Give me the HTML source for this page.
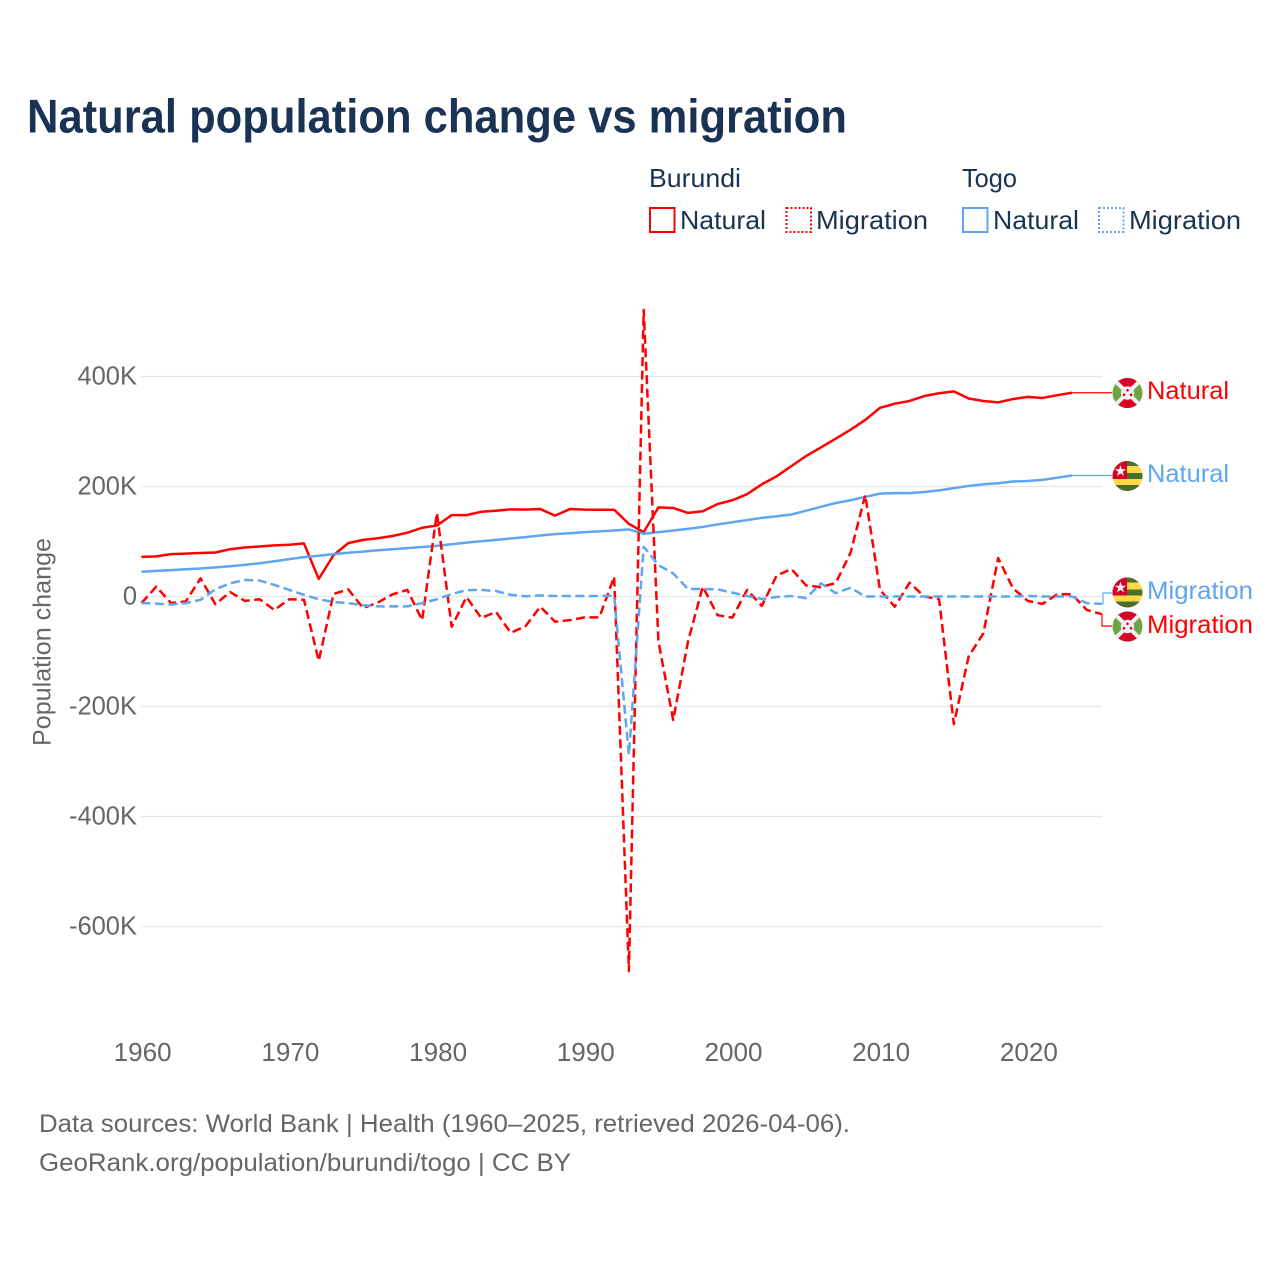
<!DOCTYPE html>
<html lang="en">
<head>
<meta charset="utf-8">
<title>Natural population change vs migration</title>
<style>
html,body{margin:0;padding:0;background:#fff;}
svg{display:block;}
text{font-family:"Liberation Sans",sans-serif;}
</style>
</head>
<body>
<svg id="chart" xmlns="http://www.w3.org/2000/svg" width="1280" height="1280" viewBox="0 0 1280 1280">
  <defs>
    <clipPath id="flag-clip-1"><circle cx="1127.5" cy="393" r="15"/></clipPath>
    <clipPath id="flag-clip-2"><circle cx="1127.5" cy="476" r="15"/></clipPath>
    <clipPath id="flag-clip-3"><circle cx="1127.5" cy="592.5" r="15"/></clipPath>
    <clipPath id="flag-clip-4"><circle cx="1127.5" cy="626.5" r="15"/></clipPath>
  </defs>

  <text x="27" y="132.5" font-size="47" font-weight="700" fill="#1a3354" textLength="820" lengthAdjust="spacingAndGlyphs">Natural population change vs migration</text>

  <g font-size="26" fill="#1a3354">
    <text x="649" y="187" textLength="92" lengthAdjust="spacingAndGlyphs">Burundi</text>
    <text x="962" y="187" textLength="55" lengthAdjust="spacingAndGlyphs">Togo</text>
    <g>
      <rect x="650" y="208" width="24.5" height="24" fill="none" stroke="#ff0000" stroke-width="2"/>
      <text x="680" y="229" textLength="86" lengthAdjust="spacingAndGlyphs">Natural</text>
    </g>
    <g>
      <rect x="786.5" y="208" width="24.5" height="24" fill="none" stroke="#ff0000" stroke-width="2" stroke-dasharray="2 2"/>
      <text x="816" y="229" textLength="112" lengthAdjust="spacingAndGlyphs">Migration</text>
    </g>
    <g>
      <rect x="963" y="208" width="24.5" height="24" fill="none" stroke="#5ea6f0" stroke-width="2"/>
      <text x="993" y="229" textLength="86" lengthAdjust="spacingAndGlyphs">Natural</text>
    </g>
    <g>
      <rect x="1099" y="208" width="24.5" height="24" fill="none" stroke="#5ea6f0" stroke-width="2" stroke-dasharray="2 2"/>
      <text x="1129" y="229" textLength="112" lengthAdjust="spacingAndGlyphs">Migration</text>
    </g>
  </g>

  <g id="grid"></g>
  <g id="y-axis"></g>
  <g id="x-axis"></g>
  <text transform="translate(50.5,642) rotate(-90)" text-anchor="middle" font-size="25" fill="#666666" textLength="208" lengthAdjust="spacingAndGlyphs">Population change</text>

  <g id="series"></g>
  <g id="connectors"></g>

  <g clip-path="url(#flag-clip-1)">
    <rect x="1112" y="378" width="31" height="30" fill="#6da544"/>
    <path d="M1112 378h31l-15.5 15z M1112 408h31l-15.5 -15z" fill="#d80027"/>
    <path d="M1112 378L1143 408M1143 378L1112 408" stroke="#f0f0f0" stroke-width="4"/>
    <circle cx="1127.5" cy="393" r="6.7" fill="#f0f0f0"/>
    <circle cx="1127.5" cy="390.3" r="1.3" fill="#d80027"/><circle cx="1124" cy="394.8" r="1.3" fill="#d80027"/><circle cx="1131" cy="394.8" r="1.3" fill="#d80027"/>
  </g>
  <g clip-path="url(#flag-clip-2)">
    <rect x="1112" y="461" width="31" height="30" fill="#ffda44"/>
    <rect x="1112" y="461" width="31" height="5" fill="#496e2d"/>
    <rect x="1112" y="473" width="31" height="6" fill="#496e2d"/>
    <rect x="1112" y="485" width="31" height="6" fill="#496e2d"/>
    <rect x="1112" y="461" width="15" height="18" fill="#d80027"/>
    <path d="M1120.500 465l1.400 4.200h4.400l-3.600 2.600 1.400 4.200-3.600-2.600-3.600 2.600 1.400-4.200-3.600-2.600h4.400z" fill="#f0f0f0"/>
  </g>
  <g clip-path="url(#flag-clip-3)">
    <rect x="1112" y="577.500" width="31" height="30" fill="#ffda44"/>
    <rect x="1112" y="577.500" width="31" height="5" fill="#496e2d"/>
    <rect x="1112" y="589.500" width="31" height="6" fill="#496e2d"/>
    <rect x="1112" y="601.500" width="31" height="6" fill="#496e2d"/>
    <rect x="1112" y="577.500" width="15" height="18" fill="#d80027"/>
    <path d="M1120.500 581.500l1.400 4.200h4.400l-3.600 2.600 1.400 4.200-3.600-2.600-3.600 2.600 1.400-4.200-3.600-2.600h4.400z" fill="#f0f0f0"/>
  </g>
  <g clip-path="url(#flag-clip-4)">
    <rect x="1112" y="611.500" width="31" height="30" fill="#6da544"/>
    <path d="M1112 611.500h31l-15.500 15z M1112 641.500h31l-15.500 -15z" fill="#d80027"/>
    <path d="M1112 611.500L1143 641.500M1143 611.500L1112 641.500" stroke="#f0f0f0" stroke-width="4"/>
    <circle cx="1127.5" cy="626.500" r="6.7" fill="#f0f0f0"/>
    <circle cx="1127.5" cy="623.800" r="1.300" fill="#d80027"/><circle cx="1124" cy="628.300" r="1.300" fill="#d80027"/><circle cx="1131" cy="628.300" r="1.300" fill="#d80027"/>
  </g>

  <g font-size="25">
    <text x="1147" y="399" fill="#ff0000" textLength="82" lengthAdjust="spacingAndGlyphs">Natural</text>
    <text x="1147" y="482" fill="#5ea6f0" textLength="82" lengthAdjust="spacingAndGlyphs">Natural</text>
    <text x="1147" y="599" fill="#5ea6f0" textLength="106" lengthAdjust="spacingAndGlyphs">Migration</text>
    <text x="1147" y="633" fill="#ff0000" textLength="106" lengthAdjust="spacingAndGlyphs">Migration</text>
  </g>

  <g font-size="25" fill="#666666">
    <text x="39" y="1132" textLength="811" lengthAdjust="spacingAndGlyphs">Data sources: World Bank | Health (1960–2025, retrieved 2026-04-06).</text>
    <text x="39" y="1171" textLength="532" lengthAdjust="spacingAndGlyphs">GeoRank.org/population/burundi/togo | CC BY</text>
  </g>
</svg>

<script>
var years = [1960,1961,1962,1963,1964,1965,1966,1967,1968,1969,1970,1971,1972,1973,1974,1975,1976,1977,1978,1979,1980,1981,1982,1983,1984,1985,1986,1987,1988,1989,1990,1991,1992,1993,1994,1995,1996,1997,1998,1999,2000,2001,2002,2003,2004,2005,2006,2007,2008,2009,2010,2011,2012,2013,2014,2015,2016,2017,2018,2019,2020,2021,2022,2023,2024,2025];
var burundiNatural = [72,73,77,78,79,80,86,89,91,93,94,96.5,32,75,97,103,106,110,116,125,129,148,148,154,156,158.5,158,159,147,159,158,157.7,157.7,132,117,162,161,152,155,168,175,186,204,218.5,237,255.5,271,287,303,321,343,350.6,355.5,364.5,369.5,373,360,355.5,353,359,363,361,366,370.5];
var togoNatural = [45,46.5,48,49.5,51,53,55,57.5,60.5,64,68,71.5,74,77,79.5,81.5,84,86,88,90,92,95,98,100.5,103,105.5,108,111,113.5,115,117,118.5,120,122,114,117,120,123,126.5,131,135,139,143,146,149,156,163,170,175,181,187,188,188,190,193,197,201,204,206,209,210,212,216,220];
var burundiMigration = [-12,18,-12,-9,33,-14,8,-8,-5,-24.5,-5,-6,-117,4.5,13,-21,-11,4,12,-43,152,-55,-1,-39,-28,-66,-54,-18.5,-46,-43,-38,-38,36,-681,521,-82,-224.5,-82,18,-34,-38.5,12,-17,38,50,20,17,24.5,79,184.5,12,-18.5,25,0,-5,-232,-109,-67,70,15,-8,-13.5,4,4,-24.5,-32];
var togoMigration = [-12,-13,-14.5,-12,-6,13,24,30,29,21,12,3,-5,-10,-12,-16,-18,-18,-18,-12,-5,4.5,11.6,12,10,3,0.5,2,1,1,1,1,1.5,-288,90.5,57,42,13.6,13.6,13,7,1,-4.5,-1,1,-3,24,6,16,0,0,0,0,0,0,0,0,0,0,0,1,0,0,0,-12,-13.5];
var yTickValues = [400,200,0,-200,-400,-600];
var yTickLabels = ["400K","200K","0","-200K","-400K","-600K"];
var xTickValues = [1960,1970,1980,1990,2000,2010,2020];

var NS = "http://www.w3.org/2000/svg";
function xScale(year){ return 141.5 + (year - 1960) * 14.77; }
function yScale(k){ return 596.5 - k * 0.55; }

function make(tag, parent, attrs){
  var el = document.createElementNS(NS, tag);
  for (var key in attrs) { el.setAttribute(key, attrs[key]); }
  parent.appendChild(el);
  return el;
}
function pointsFor(values){
  return values.map(function(v, i){
    return xScale(years[i]).toFixed(2) + "," + yScale(v).toFixed(2);
  }).join(" ");
}

var gridGroup = document.getElementById("grid");
var yAxisGroup = document.getElementById("y-axis");
yTickValues.forEach(function(v, i){
  var line = make("line", gridGroup, {x1:141, x2:1102, y1:yScale(v), y2:yScale(v), stroke:"#e6e6e6", "stroke-width":1.2});
  
  
  var label = make("text", yAxisGroup, {x:137, y:yScale(v) + 8, "text-anchor":"end", "font-size":25.5, fill:"#666666"});
  
  
  label.textContent = yTickLabels[i];
});

var xAxisGroup = document.getElementById("x-axis");
xTickValues.forEach(function(year){
  var label = make("text", xAxisGroup, {x:xScale(year) + 1.2, y:1061, "text-anchor":"middle", "font-size":25.5, fill:"#666666", textLength:58, lengthAdjust:"spacingAndGlyphs"});
  
  
  label.textContent = String(year);
});

var seriesGroup = document.getElementById("series");
function drawSeries(values, color, dash, name){
  var line = make("polyline", seriesGroup, {points:pointsFor(values), fill:"none", stroke:color, "stroke-width":2.5, "stroke-linejoin":"round"});
  if (dash) { line.setAttribute("stroke-dasharray", dash); }
  
  
}
drawSeries(burundiNatural, "#ff0000", null, "line-burundi-natural");
drawSeries(togoNatural, "#5ea6f0", null, "line-togo-natural");
drawSeries(burundiMigration, "#ff0000", "9 4.5", "line-burundi-migration");
drawSeries(togoMigration, "#5ea6f0", "9 4.5", "line-togo-migration");

var connectorGroup = document.getElementById("connectors");
function drawConnector(startX, startY, elbowX, endY, color, name){
  var path = make("polyline", connectorGroup, {points:[startX+","+startY, elbowX+","+startY, elbowX+","+endY, "1112,"+endY].join(" "), fill:"none", stroke:color, "stroke-width":1.2});
  
  
}
var lastX = xScale(2023), endX = xScale(2025);
drawConnector(lastX, yScale(burundiNatural[63]), 1100, yScale(burundiNatural[63]), "#ff0000", "connector-burundi-natural");
drawConnector(lastX, yScale(togoNatural[63]), 1100, yScale(togoNatural[63]), "#5ea6f0", "connector-togo-natural");
drawConnector(endX, yScale(togoMigration[65]), 1103, 593, "#5ea6f0", "connector-togo-migration");
drawConnector(endX, yScale(burundiMigration[65]), 1102, 626, "#ff0000", "connector-burundi-migration");
</script>
</body>
</html>
